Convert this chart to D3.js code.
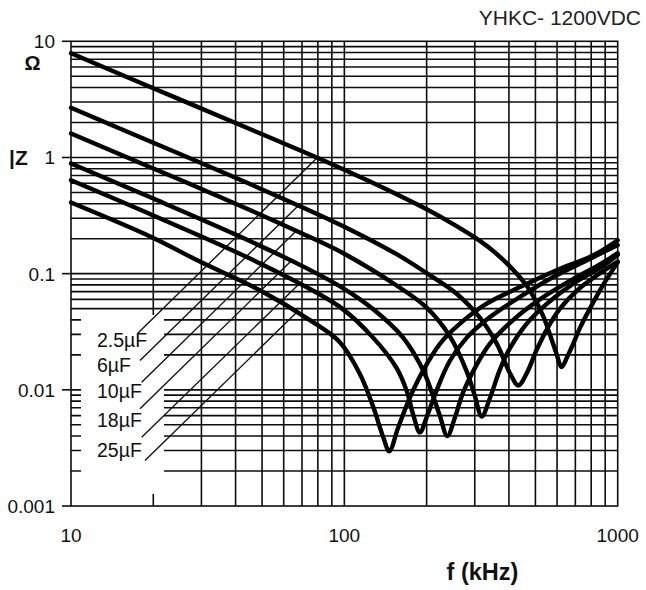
<!DOCTYPE html>
<html><head><meta charset="utf-8">
<script src="https://cdn.jsdelivr.net/npm/d3@7"></script>
<style>
body{margin:0;background:#fff;}
svg{display:block;font-family:"Liberation Sans",Arial,sans-serif;}
</style>
</head><body>
<svg id="chart" width="646" height="590"></svg>
<script>
// ---------- data ----------
const title = "YHKC- 1200VDC";
const xTicks = [10, 100, 1000];
const xTickLabels = ["10", "100", "1000"];
const yTicks = [0.001, 0.01, 0.1, 1, 10];
const yTickLabels = ["0.001", "0.01", "0.1", "1", "10"];
const capLabels = ["2.5µF", "6µF", "10µF", "18µF", "25µF"];
const capLabelF = 12.45;
const capLabelZ = [0.0232, 0.0142, 0.00858, 0.00483, 0.00262];
const leaderStart = [[17.48,0.0304],[17.88,0.0179],[18.14,0.01163],[17.88,0.00686],[18.14,0.0039],[18.65,0.00246]];
const leaderEnd   = [[79.4,0.99],[67.5,0.38],[66.2,0.229],[64.0,0.129],[67.7,0.080],[67.1,0.0467]];

// impedance curves: [frequency kHz, |Z| ohm]
const curve1 = [[10,7.88],[20,3.95],[40,1.98],[79.3,1.0],[99.1,0.79],[120.7,0.639],[155.3,0.482],[200,0.358],[243,0.278],[300,0.205],[350,0.157],[404,0.115],[464,0.079],[502,0.058],[534,0.043],[565,0.030],[595,0.021],[624,0.0157],[652,0.019],[688,0.025],[727,0.034],[791,0.05],[885,0.08],[1000,0.125]];
const curve2 = [[10,2.68],[20,1.34],[40,0.67],[68.8,0.381],[99.1,0.256],[155.3,0.147],[200,0.101],[257.5,0.0672],[313,0.0418],[361,0.025],[404,0.0138],[433,0.0109],[464,0.0138],[505,0.022],[550,0.033],[615,0.05],[727,0.075],[910,0.11],[1000,0.127]];
const curve3 = [[10,1.61],[20,0.805],[40,0.40],[68.8,0.226],[99.1,0.150],[155.3,0.079],[200,0.051],[243,0.029],[280,0.0145],[300.5,0.0088],[318,0.0059],[341,0.0085],[371,0.015],[404,0.023],[464,0.037],[550,0.055],[688,0.082],[861,0.112],[1000,0.145]];
const curve4 = [[10,0.888],[20,0.443],[40,0.217],[68.8,0.119],[99.1,0.0748],[127.6,0.0494],[164,0.0282],[194,0.0148],[211,0.0089],[224,0.0059],[238,0.004],[254,0.0058],[272,0.0095],[305,0.0165],[341,0.025],[415,0.04],[519,0.06],[688,0.09],[861,0.12],[1000,0.15]];
const curve5 = [[10,0.637],[20,0.317],[49,0.123],[96,0.052],[127.6,0.028],[155,0.0155],[169,0.0098],[178.6,0.0061],[189,0.0043],[200,0.0058],[217.6,0.0099],[243,0.0177],[280,0.028],[341,0.0423],[439,0.063],[581,0.0935],[769,0.13],[1000,0.176]];
const curve6 = [[10,0.409],[20,0.203],[29.6,0.127],[49.1,0.072],[74.8,0.0398],[96.3,0.0257],[114,0.0137],[127.6,0.0071],[138.8,0.0039],[146,0.00296],[157.5,0.00476],[173.8,0.0086],[194.3,0.0147],[223.7,0.0249],[264.8,0.0371],[331.5,0.0551],[438.9,0.0766],[597.7,0.107],[813.7,0.1438],[1000,0.194]];
const curves = [curve1, curve2, curve3, curve4, curve5, curve6];

// ---------- layout ----------
const L = 71, R = 617.7, T = 41.3, B = 506;
const svg = d3.select("#chart");
const x = d3.scaleLog().domain([10, 1000]).range([L, R]);
const y = d3.scaleLog().domain([0.001, 10]).range([B, T]);
const gridColor = "#0d0d0d", gridW = 1.6;

const g = svg.append("g");
x.ticks().filter(v => v > 10 && v < 1000).forEach(v => {
  g.append("line").attr("x1", x(v)).attr("x2", x(v)).attr("y1", T).attr("y2", B)
    .attr("stroke", gridColor).attr("stroke-width", gridW);
});
y.ticks().filter(v => v > 0.0011 && v < 9.9).forEach(v => {
  g.append("line").attr("x1", L).attr("x2", R).attr("y1", y(v)).attr("y2", y(v))
    .attr("stroke", gridColor).attr("stroke-width", gridW);
});
g.append("rect").attr("x", 81).attr("y", 315).attr("width", 83).attr("height", 179).attr("fill", "#fff");
g.append("rect").attr("x", L).attr("y", T).attr("width", R - L).attr("height", B - T)
  .attr("fill", "none").attr("stroke", gridColor).attr("stroke-width", gridW);
yTicks.forEach(v => {
  g.append("line").attr("x1", L - 9).attr("x2", L).attr("y1", y(v)).attr("y2", y(v))
    .attr("stroke", gridColor).attr("stroke-width", gridW);
});

yTicks.forEach((v, i) => {
  svg.append("text").attr("x", 55).attr("y", y(v) + 7).attr("text-anchor", "end")
    .attr("font-size", 19).attr("fill", "#111").text(yTickLabels[i]);
});
xTicks.forEach((v, i) => {
  svg.append("text").attr("x", x(v)).attr("y", 542).attr("text-anchor", "middle")
    .attr("font-size", 19).attr("fill", "#111").text(xTickLabels[i]);
});

svg.append("text").attr("x", 32.5).attr("y", 70).attr("text-anchor", "middle")
  .attr("font-size", 20).attr("font-weight", "bold").attr("fill", "#111").text("Ω");
svg.append("text").attr("x", 9).attr("y", 165).attr("font-size", 21)
  .attr("font-weight", "bold").attr("fill", "#111").text("|Z");
svg.append("text").attr("x", 482.5).attr("y", 580).attr("text-anchor", "middle")
  .attr("font-size", 23.5).attr("font-weight", "bold").attr("fill", "#111").text("f (kHz)");
svg.append("text").attr("x", 641).attr("y", 25).attr("text-anchor", "end")
  .attr("font-size", 21).attr("fill", "#222").text(title);

leaderStart.forEach((s, i) => {
  const e = leaderEnd[i];
  svg.append("line").attr("x1", x(s[0])).attr("y1", y(s[1])).attr("x2", x(e[0])).attr("y2", y(e[1]))
    .attr("stroke", "#111").attr("stroke-width", 1.4);
});
capLabels.forEach((t, i) => {
  svg.append("text").attr("x", x(capLabelF)).attr("y", y(capLabelZ[i])).attr("font-size", 19.5)
    .attr("fill", "#111").text(t);
});

const line = d3.line().x(d => x(d[0])).y(d => y(d[1])).curve(d3.curveCatmullRom.alpha(0.5));
curves.forEach(c => {
  svg.append("path").datum(c).attr("d", line).attr("fill", "none")
    .attr("stroke", "#000").attr("stroke-width", 4.4).attr("stroke-linejoin", "round").attr("stroke-linecap", "round");
});
</script>
</body></html>
